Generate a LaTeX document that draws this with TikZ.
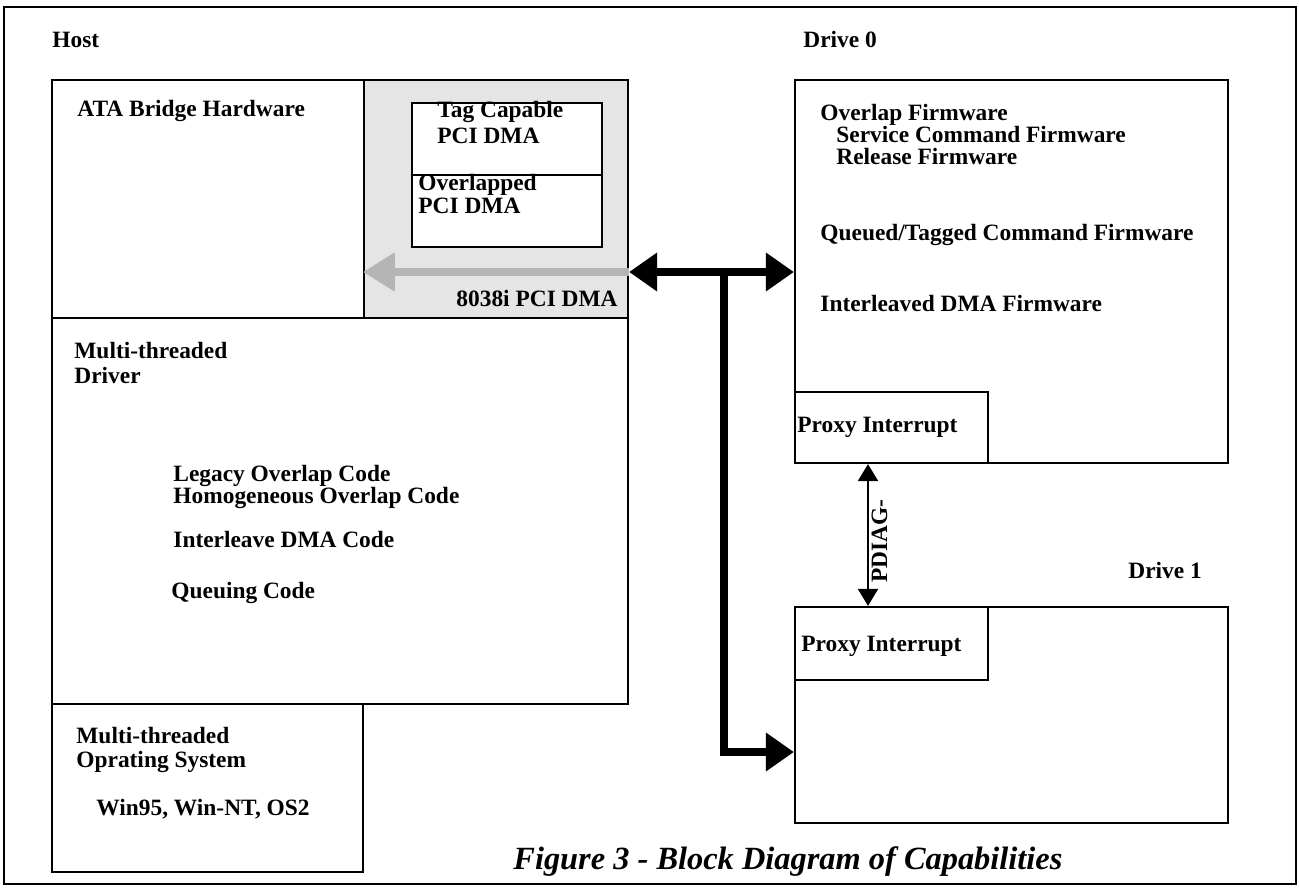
\documentclass[tikz,border=0pt]{standalone}
\usepackage{fontspec}
\setmainfont{Liberation Serif}
\usetikzlibrary{arrows.meta,fit}
\definecolor{bridgeshade}{gray}{0.90}
\definecolor{dmaarrow}{gray}{0.71}

\begin{document}
\begin{tikzpicture}[x=0.5pt,y=-0.5pt,
  box/.style={draw,line width=1.1pt,inner sep=0pt},
  lbl/.style={anchor=base west,inner sep=0pt,font=\fontsize{11.7}{14}\selectfont\bfseries},
  bighead/.tip={Triangle[length=14pt,width=18.5pt]},
  greyhead/.tip={Triangle[length=16pt,width=18.5pt]},
  thinhead/.tip={Triangle[length=8.5pt,width=10pt]},
  bus/.style={line width=4pt},
  dmapath/.style={line width=4pt,draw=dmaarrow,-greyhead,color=dmaarrow},
  pdiag/.style={line width=1pt,thinhead-thinhead}]

\useasboundingbox (0,0) rectangle (1299,888);
% outer frame
\draw[line width=1.4pt] (4,7) rectangle (1296,884);

% host side blocks
\node[box,fill=bridgeshade,fit={(364,80) (628,318)}] (dma) {};
\node[box,fit={(52,80) (628,318)}] (ata) {};
\node[box,fill=white,fit={(412,103) (602,175)}] (tagdma) {};
\node[box,fill=white,fit={(412,175) (602,247)}] (ovldma) {};
\node[box,fit={(52,318) (628,704)}] (drv) {};
\node[box,fit={(52,704) (363,872)}] (os) {};

% drive blocks
\node[box,fit={(795,80) (1228,463)}] (d0) {};
\node[box,fit={(795,392) (988,463)}] (px0) {};
\node[box,fit={(795,607) (1228,823)}] (d1) {};
\node[box,fit={(795,607) (988,680)}] (px1) {};

% connectors
\coordinate (jn) at (724,272);
\coordinate (tap) at (724,752);
\coordinate (pd) at (868,0);
\draw[dmapath] (dma.east |- jn) -- (dma.west |- jn);
\draw[bus,bighead-bighead] (dma.east |- jn) -- (d0.west |- jn);
\draw[bus,-bighead] (jn) -- (tap) -- (tap -| d1.west);
\draw[pdiag] (pd |- d0.south) -- (pd |- d1.north);

% labels
\node[lbl] (thost) at (52,48) {Host};
\node[lbl] (td0) at (803,48) {Drive 0};
\node[lbl] (td1) at (1128,578) {Drive 1};
\node[lbl] (tata) at (77,117) {ATA Bridge Hardware};
\node[lbl] (ttag1) at (437,118) {Tag Capable};
\node[lbl] (ttag2) at (437,143) {PCI DMA};
\node[lbl] (tovl1) at (418,190) {Overlapped};
\node[lbl] (tovl2) at (418,213) {PCI DMA};
\node[lbl,anchor=base east] (t8038) at (618,306) {8038i PCI DMA};
\node[lbl] (tdrv1) at (74,358) {Multi-threaded};
\node[lbl] (tdrv2) at (74,383) {Driver};
\node[lbl] (tleg) at (173,481) {Legacy Overlap Code};
\node[lbl] (thom) at (173,503) {Homogeneous Overlap Code};
\node[lbl] (tint) at (173,547) {Interleave DMA Code};
\node[lbl] (tque) at (171,598) {Queuing Code};
\node[lbl] (tos1) at (76,743) {Multi-threaded};
\node[lbl] (tos2) at (76,767) {Oprating System};
\node[lbl] (tos3) at (96,815) {Win95, Win-NT, OS2};
\node[lbl] (tfw1) at (820,120) {Overlap Firmware};
\node[lbl] (tfw2) at (836,142) {Service Command Firmware};
\node[lbl] (tfw3) at (836,164) {Release Firmware};
\node[lbl] (tfw4) at (820,240) {Queued/Tagged Command Firmware};
\node[lbl] (tfw5) at (820,311) {Interleaved DMA Firmware};
\node[lbl] (tpx0) at (797,432) {Proxy Interrupt};
\node[lbl] (tpx1) at (801,651) {Proxy Interrupt};
\node[lbl,rotate=90] (tpd) at (887,583) {PDIAG-};
\node[anchor=base west,inner sep=0pt,font=\fontsize{16.2}{19}\selectfont\bfseries\itshape] (tcap) at (513,869) {Figure 3 - Block Diagram of Capabilities};
\end{tikzpicture}
\end{document}
